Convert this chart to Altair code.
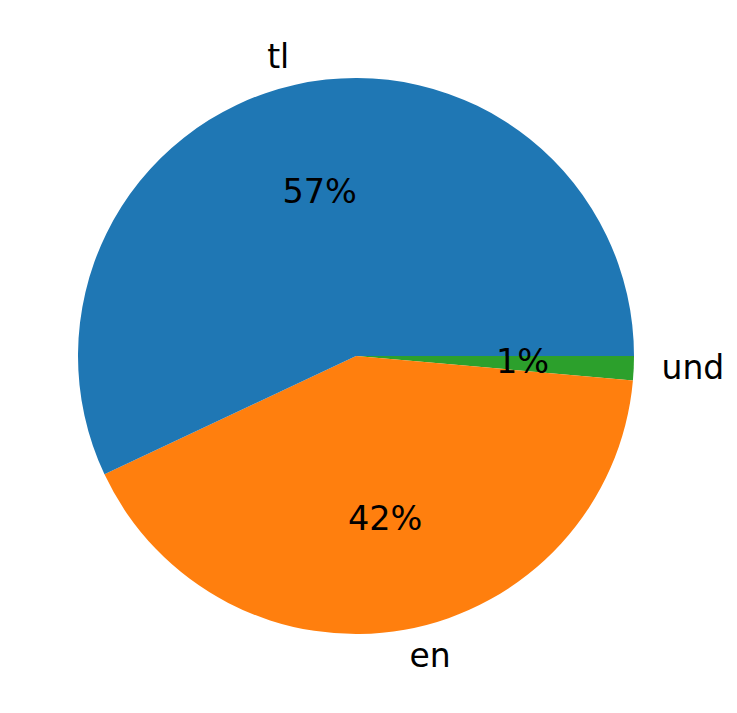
import altair as alt
import pandas as pd

labels = ["und", "en", "tl"]
values = [1.4, 41.6, 57.0]
colors = ["#2ca02c", "#ff7f0e", "#1f77b4"]
order = [0, 1, 2]
label_align = ["left", "left", "right"]

total = sum(values)
pcts = [f"{round(v / total * 100):.0f}%" for v in values]

df = pd.DataFrame({
    "label": labels,
    "value": values,
    "pct": pcts,
    "ord": order,
    "align": label_align,
})

PI = 3.141592653589793
R = 278
FONT = "DejaVu Sans"

base = alt.Chart(df).encode(
    theta=alt.Theta("value:Q", stack=True, scale=alt.Scale(range=[PI / 2, PI / 2 + 2 * PI])),
    order=alt.Order("ord:Q"),
)

arcs = base.mark_arc(radius=R, stroke=None).encode(
    color=alt.Color("label:N", scale=alt.Scale(domain=labels, range=colors), legend=None)
)

pct_text = base.mark_text(radius=0.6 * R, font=FONT, fontSize=33.5, color="black",
                          align="center", baseline="middle").encode(text="pct:N")

lab_left = base.mark_text(radius=1.1 * R, font=FONT, fontSize=33, color="black",
                          align="left", baseline="middle").encode(
    text=alt.condition("datum.align == 'left'", "label:N", alt.value(""))
)
lab_right = base.mark_text(radius=1.1 * R, font=FONT, fontSize=33, color="black",
                           align="right", baseline="middle").encode(
    text=alt.condition("datum.align == 'right'", "label:N", alt.value(""))
)

chart = alt.layer(arcs, pct_text, lab_left, lab_right).properties(
    width=696, height=696,
    autosize=alt.AutoSizeParams(type="none"),
    padding={"left": 0, "top": 0, "right": 25, "bottom": 0},
).configure_view(stroke=None)

chart.save("out.html", embed_options={"renderer": "svg", "actions": False})
